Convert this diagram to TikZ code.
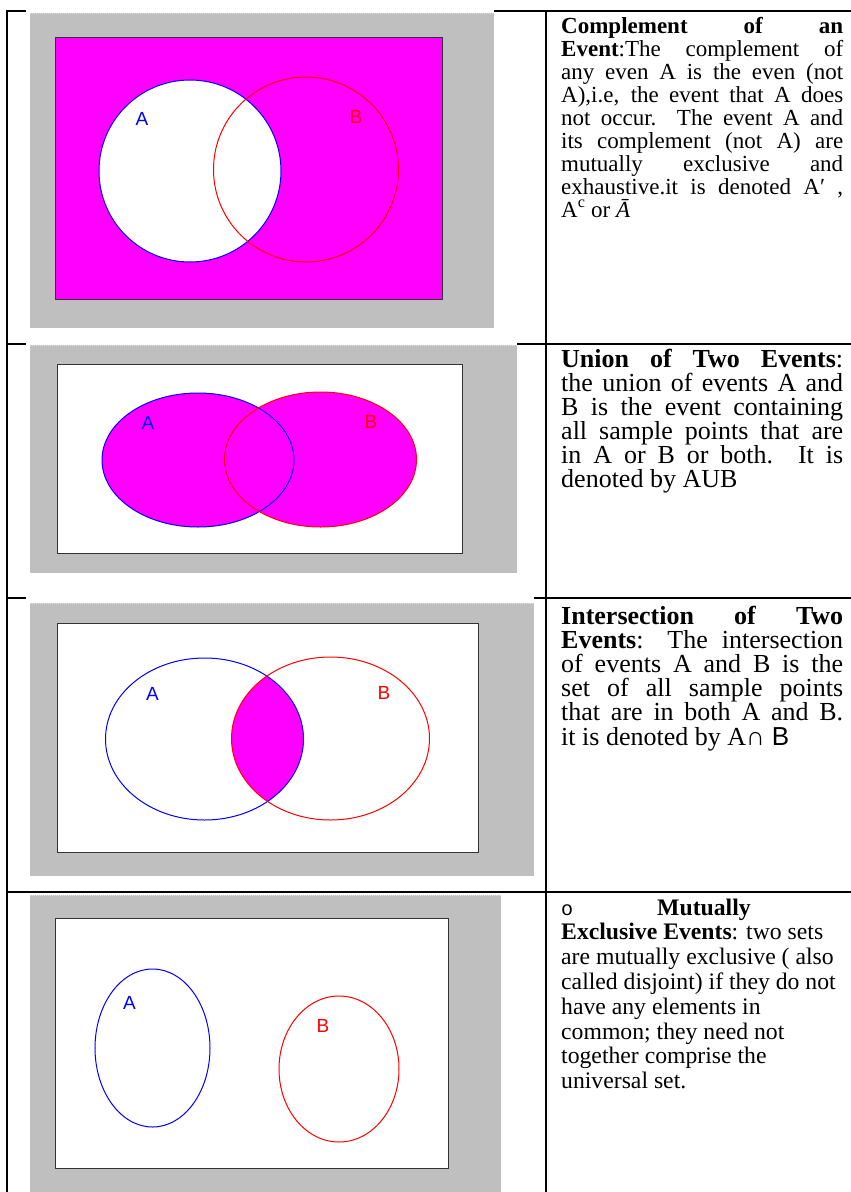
\documentclass[tikz,border=0pt]{standalone}
\usepackage{fontspec}
\setmainfont{Liberation Serif}
\newfontfamily\lsans{Liberation Sans}
\newfontfamily\lmono{Liberation Mono}
\definecolor{mag}{RGB}{255,0,255}
\definecolor{gry}{RGB}{191,191,191}
\definecolor{bblue}{RGB}{0,0,255}
\definecolor{rred}{RGB}{255,0,0}
\tikzset{
  tbl/.style={line width=1.6pt, black},
  graybox/.style={fill=gry},
  cover/.style={fill=white},
  frame/.style={draw=black!80, line width=1pt},
  setA/.style={draw=bblue, line width=1pt},
  setB/.style={draw=rred, line width=1pt},
  lbl/.style={inner sep=0pt, font=\lsans\fontsize{19}{19}\selectfont},
  txt/.style={inner sep=0pt, anchor=base west, align=left},
  dotedge/.style={draw=black!12, line width=1pt, dash pattern=on 1pt off 1pt}
}
\begin{document}
\begin{tikzpicture}[x=1pt,y=-1pt]
\useasboundingbox (0,0) rectangle (851,1192);
\fill[white] (0,0) rectangle (851,1192);
% table rules
\draw[tbl] (7,11) -- (851,11);
\draw[tbl] (7,344) -- (851,344);
\draw[tbl] (7,598) -- (851,598);
\draw[tbl] (7,892) -- (851,892);
\draw[tbl] (7,10.2) -- (7,1192);
\draw[tbl] (546,10.2) -- (546,1192);

% ---------- Row 1: complement ----------
\fill[cover] (26,9) rectangle (494,13);
\fill[graybox] (30,13) rectangle (494,328);
\draw[dotedge] (30,13.5) -- (494,13.5);
\fill[mag] (55,37) rectangle (442,299);
\draw[frame] (55,37) rectangle (442,299);
\fill[white] (190,171) circle [radius=91];
\draw[setA] (190,171) circle [radius=91];
\draw[setB] (306,169.5) circle [radius=92.5];
\node[lbl, text=bblue] (a1) at (142,119) {A};
\node[lbl, text=rred] (b1) at (356,117) {B};

% ---------- Row 2: union ----------
\fill[cover] (26,342) rectangle (517,345);
\fill[graybox] (30,345) rectangle (517,573);
\draw[dotedge] (30,345.5) -- (517,345.5);
\fill[white] (57,364) rectangle (462,553);
\draw[frame] (57,364) rectangle (462,553);
\fill[mag] (198,460) ellipse [x radius=96, y radius=67];
\fill[mag] (320.5,459.5) ellipse [x radius=96, y radius=67.5];
\draw[setA] (198,460) ellipse [x radius=96, y radius=67];
\draw[setB] (320.5,459.5) ellipse [x radius=96, y radius=67.5];
\node[lbl, text=bblue] (a2) at (148,423) {A};
\node[lbl, text=rred] (b2) at (371,422) {B};

% ---------- Row 3: intersection ----------
\fill[cover] (26,596) rectangle (534,603);
\fill[graybox] (30,603) rectangle (534,876);
\draw[dotedge] (30,603.5) -- (534,603.5);
\fill[white] (57.5,623) rectangle (478,852);
\draw[frame] (57.5,623) rectangle (478,852);
\begin{scope}
  \clip (204.5,739) ellipse [x radius=99, y radius=81];
  \fill[mag] (330.5,738.5) ellipse [x radius=99, y radius=81.5];
\end{scope}
\draw[setA] (204.5,739) ellipse [x radius=99, y radius=81];
\draw[setB] (330.5,738.5) ellipse [x radius=99, y radius=81.5];
\node[lbl, text=bblue] (a3) at (152.5,694) {A};
\node[lbl, text=rred] (b3) at (384,693) {B};

% ---------- Row 4: mutually exclusive ----------
\fill[graybox] (30,895) rectangle (501,1192);
\draw[dotedge] (30,895.5) -- (501,895.5);
\fill[white] (55,918) rectangle (448,1168);
\draw[frame] (55,918) rectangle (448,1168);
\draw[setA] (152.5,1048) ellipse [x radius=57.5, y radius=79];
\draw[setB] (339,1069) ellipse [x radius=60, y radius=73];
\node[lbl, text=bblue] (a4) at (129.5,1003) {A};
\node[lbl, text=rred] (b4) at (323,1026) {B};

% ---------- Texts ----------
\node[txt] (t1) at (561,33) {\parbox[t]{282pt}{\fontsize{23}{23}\selectfont
\textbf{Complement of an}\linebreak
\textbf{Event}:The complement of\linebreak
any even A is the even (not\linebreak
A),i.e, the event that A does\linebreak
not occur.\ \ The event A and\linebreak
its complement (not A) are\linebreak
mutually exclusive and\linebreak
exhaustive.it is denoted A′ ,\linebreak
A\textsuperscript{c} or {\itshape \=A}}};

\node[txt] (t2) at (561,367) {\parbox[t]{282pt}{\fontsize{26}{24}\selectfont
\textbf{Union of Two Events}:\linebreak
the union of events A and\linebreak
B is the event containing\linebreak
all sample points that are\linebreak
in A or B or both. It is\linebreak
denoted by AUB}};

\node[txt] (t3) at (561,624) {\parbox[t]{282pt}{\fontsize{26}{24.2}\selectfont
\textbf{Intersection of Two}\linebreak
\textbf{Events}: The intersection\linebreak
of events A and B is the\linebreak
set of all sample points\linebreak
that are in both A and B.\linebreak
it is denoted by A{\lsans ∩ B}}};

\node[txt] (t4) at (561,915) {\parbox[t]{282pt}{\raggedright\fontsize{23.7}{24.8}\selectfont
\makebox[96pt][l]{\lmono\fontsize{20}{20}\selectfont o}\textbf{Mutually}\\
\textbf{Exclusive Events}: two sets\\
are mutually exclusive ( also\\
called disjoint) if they do not\\
have any elements in\\
common; they need not\\
together comprise the\\
universal set.}};
\end{tikzpicture}
\end{document}
